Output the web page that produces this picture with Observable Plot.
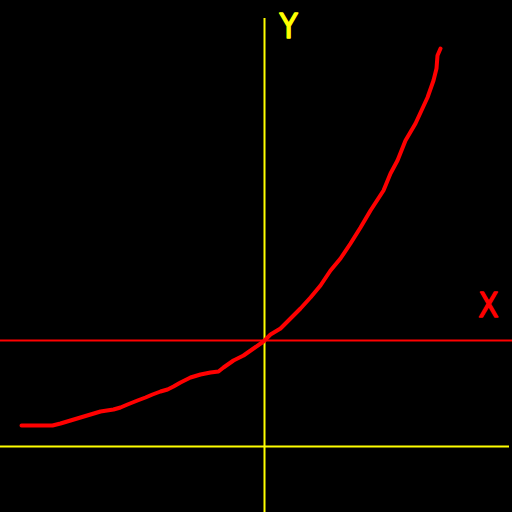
<!DOCTYPE html>
<html>
<head>
<meta charset="utf-8">
<script src="https://cdn.jsdelivr.net/npm/d3@7"></script>
<script src="https://cdn.jsdelivr.net/npm/@observablehq/plot@0.6"></script>
<style>
  html, body { margin: 0; padding: 0; background: #000; }
  #chart { width: 512px; height: 512px; }
</style>
</head>
<body>
<div id="chart"></div>
<script>
// Curve samples (x, y) relative to the axes origin
const curveX = [-243,-212,-204,-194,-184,-174,-164,-151,-144,-137,-127,-119,-112,-104,-97,-91,-84,-74,-64,-54,-46,-41,-31,-21,-11,-1,6,16,26,36,46,56,66,76,86,96,106,119,126,133,141,151,163,169,172,173,176];
const curveY = [-85,-85,-83,-80,-77,-74,-71,-69,-67,-64,-60,-57,-54,-51,-49,-46,-42,-37,-34,-32,-31,-27,-20,-15,-8,-1,6,12,22,32,43,55,70,82,97,113,130,150,167,180,200,217,243,260,272,285,292];
const baselineY = [0];       // red horizontal line (X axis)
const lowerLineY = [-106];   // yellow horizontal line
const verticalX = [0];       // yellow vertical line (Y axis)
const axisLabels = ["X", "Y"];

const curve = curveX.map((x, i) => ({x, y: curveY[i]}));

const chart = Plot.plot({
  width: 512,
  height: 512,
  margin: 0,
  style: {background: "#000"},
  x: {domain: [-264, 248], range: [0, 512], axis: null},
  y: {domain: [-172, 340], range: [512, 0], axis: null},
  marks: [
    Plot.ruleY(baselineY, {x1: -264, x2: 248, stroke: "#ff0000", strokeWidth: 2}),
    Plot.ruleY(lowerLineY, {x1: -264, x2: 245, stroke: "#ffff00", strokeWidth: 2}),
    Plot.ruleX(verticalX, {y1: 322, y2: -172, stroke: "#ffff00", strokeWidth: 2}),
    Plot.line(curve, {x: "x", y: "y", stroke: "#ff0000", strokeWidth: 4, strokeLinejoin: "round", strokeLinecap: "round"}),
    Plot.text([axisLabels[1]], {x: 24, y: 313, text: d => d, fill: "#ffff00", stroke: "#ffff00", strokeWidth: 1.3, fontSize: 33, fontFamily: "DejaVu Sans Condensed, DejaVu Sans", fontWeight: "normal"}),
    Plot.text([axisLabels[0]], {x: 224, y: 34, text: d => d, fill: "#ff0000", stroke: "#ff0000", strokeWidth: 1.3, fontSize: 33, fontFamily: "DejaVu Sans Condensed, DejaVu Sans", fontWeight: "normal"})
  ]
});
document.getElementById("chart").appendChild(chart);
</script>
</body>
</html>
